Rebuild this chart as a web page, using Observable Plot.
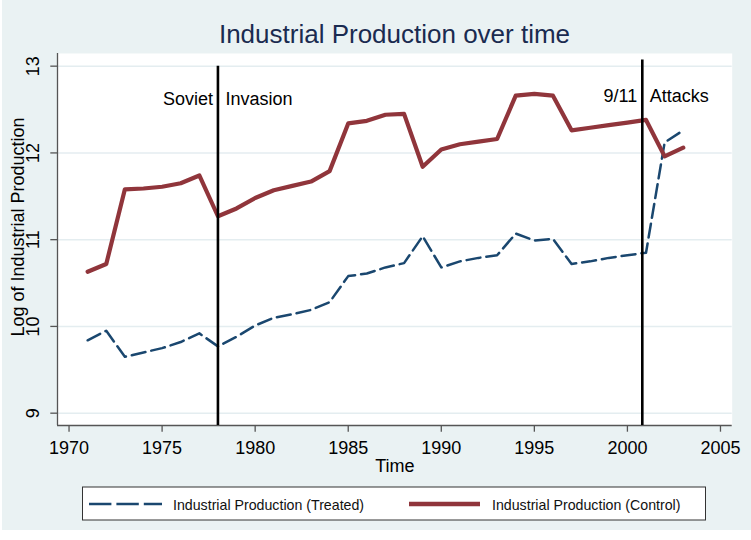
<!DOCTYPE html>
<html><head><meta charset="utf-8">
<script src="https://cdn.jsdelivr.net/npm/d3@7"></script>
<script src="https://cdn.jsdelivr.net/npm/@observablehq/plot@0.6"></script>
<style>
body{margin:0;background:#fff;font-family:"Liberation Sans",Arial,sans-serif;}
#wrap{position:relative;width:751px;height:530px;background:linear-gradient(to right,#fff 2px,#eaf2f3 2px);overflow:hidden}
#title{position:absolute;left:57px;width:675px;top:21px;text-align:center;font-size:26px;line-height:26px;color:#1a2b50;white-space:nowrap}
#chart{position:absolute;left:0;top:53px}
#legend{position:absolute;left:0;top:480px}
</style></head><body>
<div id="wrap"><div id="title"></div><div id="chart"></div><div id="legend"></div></div>
<script>
const titleText = "Industrial Production over time";
const xLabel = "Time";
const yLabel = "Log of Industrial Production";
const years = [1971,1972,1973,1974,1975,1976,1977,1978,1979,1980,1981,1982,1983,1984,1985,1986,1987,1988,1989,1990,1991,1992,1993,1994,1995,1996,1997,1998,1999,2000,2001,2002,2003];
const control = [10.63,10.72,11.58,11.59,11.61,11.65,11.74,11.27,11.36,11.48,11.57,11.62,11.67,11.79,12.34,12.37,12.44,12.45,11.84,12.04,12.10,12.13,12.16,12.66,12.68,12.66,12.26,12.29,12.32,12.35,12.38,11.96,12.06];
const treated = [9.84,9.95,9.65,9.70,9.75,9.82,9.92,9.77,9.88,10.01,10.10,10.14,10.19,10.28,10.58,10.61,10.68,10.73,11.04,10.68,10.75,10.79,10.82,11.07,10.99,11.01,10.72,10.75,10.79,10.82,10.85,12.12,12.26];
const seriesNames = ["Industrial Production (Treated)", "Industrial Production (Control)"];
const xTicks = [1970,1975,1980,1985,1990,1995,2000,2005];
const yTicks = [9,10,11,12,13];
const eventYears = [1978, 2000.8];
const eventTop = [13.0, 13.07];
const eventLabelY = [12.547, 12.585];
const eventLeft = ["Soviet", "9/11"];
const eventRight = ["Invasion", "Attacks"];

const xDomain = [1969.38, 2005.63];
const yDomain = [8.858, 13.146];
const font = '"Liberation Sans", Arial, sans-serif';
const cTreated = "#1a476f", cControl = "#90353b";

document.getElementById("title").textContent = titleText;

const rows = years.map((y, i) => ({year: y, control: control[i], treated: treated[i]}));
const events = eventYears.map((x, i) => ({x, top: eventTop[i], left: eventLeft[i], right: eventRight[i], ly: eventLabelY[i]}));

const plot = Plot.plot({
  width: 751, height: 427,
  marginLeft: 57, marginRight: 19.3, marginTop: 0, marginBottom: 55,
  style: {fontFamily: font, background: "transparent", overflow: "visible", color: "black"},
  x: {domain: xDomain},
  y: {domain: yDomain},
  marks: [
    Plot.frame({fill: "white", stroke: null}),
    Plot.ruleY(yTicks, {stroke: "#e4edf0", strokeWidth: 1.5}),
    Plot.axisX(xTicks, {tickSize: 6.7, tickPadding: 9.5, fontSize: 18, stroke: "#555", strokeWidth: 1.3, label: null, tickFormat: d => String(d)}),
    Plot.axisY(yTicks, {tickSize: 6.7, stroke: "#555", strokeWidth: 1.3, label: null, tickFormat: () => ""}),
    Plot.ruleY([yDomain[0]], {stroke: "#555", strokeWidth: 1.3}),
    Plot.ruleX([xDomain[0]], {stroke: "#555", strokeWidth: 1.3}),
    Plot.text(yTicks, {y: d => d, text: d => String(d), frameAnchor: "left", textAnchor: "middle", dx: -24, rotate: -90, fontSize: 18, fill: "black"}),
    Plot.text([yLabel], {frameAnchor: "left", textAnchor: "middle", dx: -39.5, dy: -12.5, rotate: -90, fontSize: 18, fill: "black"}),
    Plot.text([xLabel], {frameAnchor: "bottom", lineAnchor: "bottom", dy: 46.5, fontSize: 18, fill: "black"}),
    Plot.lineY(rows, {x: "year", y: "treated", stroke: cTreated, strokeWidth: 2.5, strokeDasharray: "14,6", strokeLinejoin: "round"}),
    Plot.lineY(rows, {x: "year", y: "control", stroke: cControl, strokeWidth: 4.2, strokeLinejoin: "round"}),
    Plot.ruleX(events, {x: "x", y1: () => yDomain[0], y2: "top", stroke: "black", strokeWidth: 2.6}),
    Plot.text(events, {x: "x", y: "ly", text: "left", textAnchor: "end", lineAnchor: "bottom", dx: -5, fontSize: 18, fill: "black"}),
    Plot.text(events, {x: "x", y: "ly", text: "right", textAnchor: "start", lineAnchor: "bottom", dx: 7.5, fontSize: 18, fill: "black"})
  ]
});
document.getElementById("chart").appendChild(plot);

// legend below the chart
const lg = d3.select("#legend").append("svg").attr("width", 751).attr("height", 50)
  .style("font-family", font);
lg.append("rect").attr("x", 82.5).attr("y", 7).attr("width", 623).attr("height", 33)
  .attr("fill", "white").attr("stroke", "#333").attr("stroke-width", 1);
const items = [
  {name: seriesNames[0], color: cTreated, w: 2.6, dash: "22.4,5", x0: 89, x1: 162, tx: 173},
  {name: seriesNames[1], color: cControl, w: 4.5, dash: null, x0: 409, x1: 480, tx: 492}
];
for (const it of items) {
  lg.append("line").attr("x1", it.x0).attr("x2", it.x1).attr("y1", 24).attr("y2", 24)
    .attr("stroke", it.color).attr("stroke-width", it.w).attr("stroke-dasharray", it.dash);
  lg.append("text").attr("x", it.tx).attr("y", 30).attr("font-size", 14.2).attr("fill", "#111").text(it.name);
}
</script>
</body></html>
